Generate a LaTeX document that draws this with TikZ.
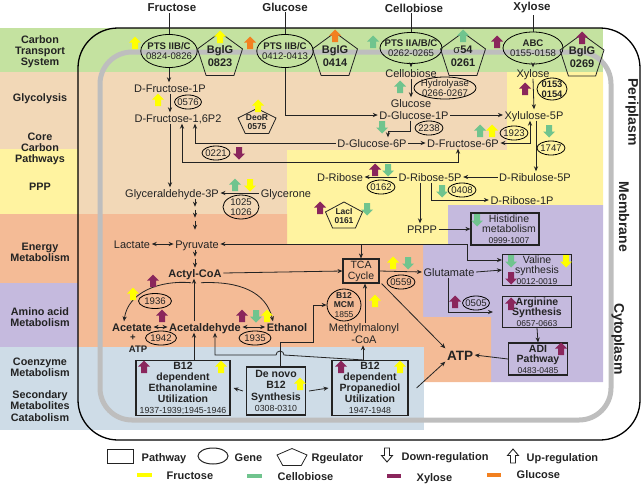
\documentclass[tikz,border=0pt]{standalone}
\usepackage{fontspec}
\setmainfont{Liberation Sans}
\usetikzlibrary{shapes.geometric,arrows.meta}
\definecolor{cgreen}{RGB}{196,226,160}
\definecolor{cpeach}{RGB}{242,216,183}
\definecolor{cyellow}{RGB}{255,243,160}
\definecolor{csalmon}{RGB}{244,187,150}
\definecolor{cpurple}{RGB}{197,186,222}
\definecolor{cblue}{RGB}{206,220,231}
\definecolor{aY}{RGB}{255,255,0}
\definecolor{aG}{RGB}{112,196,142}
\definecolor{aP}{RGB}{138,38,92}
\definecolor{aO}{RGB}{242,128,32}
\definecolor{ink}{RGB}{35,35,35}
\definecolor{mem}{RGB}{190,190,190}

\newcommand{\blkup}[3]{\fill[#3] (#1,#2) ++(0,-6.5) -- ++(6,6) -- ++(-3,0) -- ++(0,6.5) -- ++(-6,0) -- ++(0,-6.5) -- ++(-3,0) -- cycle;}
\newcommand{\blkdn}[3]{\fill[#3] (#1,#2) ++(0,6.5) -- ++(6,-6) -- ++(-3,0) -- ++(0,-6.5) -- ++(-6,0) -- ++(0,6.5) -- ++(-3,0) -- cycle;}
\newcommand{\outup}[2]{\filldraw[fill=white,draw=ink,line width=0.9pt] (#1,#2) ++(0,-7) -- ++(5.5,6.5) -- ++(-3,0) -- ++(0,7.5) -- ++(-5,0) -- ++(0,-7.5) -- ++(-3,0) -- cycle;}
\newcommand{\outdn}[2]{\filldraw[fill=white,draw=ink,line width=0.9pt] (#1,#2) ++(0,7) -- ++(5.5,-6.5) -- ++(-3,0) -- ++(0,-7.5) -- ++(-5,0) -- ++(0,7.5) -- ++(-3,0) -- cycle;}
\newcommand{\pentreg}[7]{%
  \draw[line width=0.8pt,draw=ink] (#2,#3) ++(0,-#5) -- ++(#4,{0.764*#5}) -- ++({-0.382*#4},{1.236*#5}) -- ++({-1.236*#4},0) -- ++({-0.382*#4},{-1.236*#5}) -- cycle;
  \node[#6] (#1) at (#2,{#3+0.1*#5}) {#7};}

\begin{document}
\begin{tikzpicture}[x=1pt,y=-1pt,
 lbl/.style={inner sep=1.5pt,text height=8pt,text depth=0pt,text=ink,font=\fontsize{11}{12}\selectfont},
 blbl/.style={lbl,font=\bfseries\fontsize{11}{12}\selectfont},
 toplbl/.style={text=ink,inner sep=1pt,font=\bfseries\fontsize{11.5}{12}\selectfont},
 side/.style={text=ink,align=center,font=\bfseries\fontsize{10.8}{11.2}\selectfont},
 rot/.style={text=ink,rotate=-90,font=\bfseries\fontsize{14}{14}\selectfont},
 gene/.style={ellipse,draw=black,line width=0.8pt,inner xsep=-3pt,inner ysep=-1pt,align=center,text=ink,font=\fontsize{9.6}{10}\selectfont},
 pbox/.style={draw=ink,line width=1.1pt,inner sep=0pt,align=center,text=ink},
 regb/.style={inner sep=0pt,align=center,text=ink,font=\bfseries\fontsize{11}{13}\selectfont},
 regs/.style={inner sep=0pt,align=center,text=ink,font=\bfseries\fontsize{8.5}{9.5}\selectfont},
 ln/.style={draw=ink,line width=0.8pt},
 arr/.style={ln,-{Stealth[length=5pt,width=4.2pt]}},
 darr/.style={ln,{Stealth[length=5pt,width=4.2pt]}-{Stealth[length=5pt,width=4.2pt]}}]

\useasboundingbox (0,0) rectangle (644,485);

% ---------- background bands ----------
\fill[cgreen] (0,28) rectangle (603,72);
\fill[cpeach] (0,72) rectangle (78,149);
\fill[cyellow] (0,149) rectangle (78,214);
\fill[csalmon] (0,214) rectangle (78,283);
\fill[cpurple] (0,283) rectangle (78,347);
\fill[cblue] (0,347) rectangle (78,430);
\fill[cpeach] (78,72) -- (507,72) -- (507,150) -- (287,150) -- (287,214) -- (78,214) -- cycle;
\fill[cyellow] (507,72) -- (603,72) -- (603,205) -- (448,205) -- (448,244) -- (287,244) -- (287,150) -- (507,150) -- cycle;
\fill[cpurple] (448,205) -- (603,205) -- (603,382) -- (491,382) -- (491,317) -- (423,317) -- (423,244) -- (448,244) -- cycle;
\fill[csalmon] (78,214) -- (287,214) -- (287,244) -- (423,244) -- (423,317) -- (491,317) -- (491,382) -- (424,382) -- (424,347) -- (78,347) -- cycle;
\fill[cblue] (78,347) rectangle (424,430);

% membrane and cell boundary
\draw[mem,line width=5pt,rounded corners=32pt] (100,52) rectangle (611,420);
\draw[black,line width=1.3pt,rounded corners=40pt] (78,28) rectangle (640,440);

% ---------- side labels ----------
\node[side] (sCTS) at (40,52) {Carbon\\Transport\\System};
\node[side] (sGly) at (40,99) {Glycolysis};
\node[side] (sCCP) at (40,149) {Core\\Carbon\\Pathways};
\node[side] (sPPP) at (40,187) {PPP};
\node[side] (sEM) at (40,252) {Energy\\Metabolism};
\node[side] (sAA) at (40,317) {Amino acid\\Metabolism};
\node[side] (sCM) at (40,367) {Coenzyme\\Metabolism};
\node[side] (sSM) at (40,406) {Secondary\\Metabolites\\Catabolism};
\node[rot] (tPeri) at (632,112) {Periplasm};
\node[rot] (tMem) at (624,217) {Membrane};
\node[rot] (tCyt) at (618,339) {Cytoplasm};

% ---------- top substrates and transporters ----------
\node[toplbl] (tFru) at (172,8) {Fructose};
\node[toplbl] (tGlc) at (285,7) {Glucose};
\node[toplbl] (tCel) at (414,8) {Cellobiose};
\node[toplbl] (tXyl) at (532,8) {Xylose};
\node[gene,minimum width=56,minimum height=33] (ptsF) at (169,51) {\textbf{PTS IIB/C}\\0824-0826};
\node[gene,minimum width=56,minimum height=33] (ptsG) at (285,51) {\textbf{PTS IIB/C}\\0412-0413};
\node[gene,minimum width=62,minimum height=31,inner xsep=-5pt] (ptsC) at (411,48) {\textbf{PTS IIA/B/C}\\0262-0265};
\node[gene,minimum width=60,minimum height=32] (abc) at (533,48) {\textbf{ABC}\\0155-0158};
\draw[ln] (ptsF.north) -- (ptsF.north |- tFru.south);
\draw[ln] (ptsG.north) -- (ptsG.north |- tGlc.south);
\draw[ln] (ptsC.north) -- (ptsC.north |- tCel.south);
\draw[ln] (abc.north) -- (abc.north |- tXyl.south);

\pentreg{bg823}{220}{54}{22.5}{21.5}{regb}{BglG\\0823}
\pentreg{bg414}{335}{54}{22.5}{21.5}{regb}{BglG\\0414}
\pentreg{s54}{463}{54}{22.5}{21.5}{regb}{{\mdseries σ}54\\0261}
\pentreg{bg269}{582}{55}{22}{21}{regb}{BglG\\0269}

% ---------- glycolysis ----------
\node[lbl] (f1p) at (170,88) {D-Fructose-1P};
\node[lbl] (f16) at (178,118) {D-Fructose-1,6P2};
\node[gene,minimum width=27,minimum height=14] (g576) at (188,102) {0576};
\pentreg{deor}{257}{121}{19}{12.5}{regs}{DeoR\\0575}
\node[lbl] (cel) at (411,73) {Cellobiose};
\node[lbl] (glc) at (411,103) {Glucose};
\node[lbl] (g1p) at (414,115) {D-Glucose-1P};
\node[gene,minimum width=62,minimum height=22,inner xsep=-4pt,inner ysep=-1.5pt] (hyd) at (445,88) {Hydrolyase\\0266-0267};
\node[lbl] (xyl) at (533,73) {Xylose};
\node[gene,minimum width=30,minimum height=22,inner ysep=-2pt,font=\bfseries\fontsize{9.4}{10}\selectfont] (g153) at (552,89) {0153\\0154};
\node[lbl] (x5p) at (534,115) {Xylulose-5P};
\node[lbl] (g6p) at (372,143) {D-Glucose-6P};
\node[lbl] (f6p) at (463,143) {D-Fructose-6P};
\node[gene,minimum width=28,minimum height=14] (g2238) at (429,128) {2238};
\node[gene,minimum width=28,minimum height=14] (g1923) at (514,133) {1923};
\node[gene,minimum width=28,minimum height=14] (g1747) at (551,148) {1747};
\node[gene,minimum width=28,minimum height=14] (g0221) at (216,153) {0221};
\node[lbl] (ga3p) at (172,193) {Glyceraldehyde-3P};
\node[lbl] (gly) at (286,193) {Glycerone};
\node[gene,minimum width=36,minimum height=24,inner ysep=-2pt] (g1025) at (241,207) {1025\\1026};

% ---------- PPP ----------
\node[lbl] (rib) at (340,177) {D-Ribose};
\node[lbl] (r5p) at (430,177) {D-Ribose-5P};
\node[lbl] (ru5p) at (535,177) {D-Ribulose-5P};
\node[lbl] (r1p) at (522,200) {D-Ribose-1P};
\node[lbl] (prpp) at (422,229) {PRPP};
\node[gene,minimum width=28,minimum height=14] (g0162) at (381,187) {0162};
\node[gene,minimum width=28,minimum height=14] (g0408) at (462,190) {0408};
\pentreg{laci}{344}{215}{18.5}{13}{regs}{LacI\\0161}

% ---------- energy ----------
\node[lbl] (lac) at (132,244) {Lactate};
\node[lbl] (pyr) at (197,244) {Pyruvate};
\node[blbl] (acoa) at (195,273) {Actyl-CoA};
\node[blbl] (ace) at (132,327) {Acetate};
\node[text=ink,inner sep=1pt,font=\bfseries\fontsize{9.5}{10}\selectfont] (plus) at (133,338) {+};
\node[text=ink,inner sep=1pt,font=\bfseries\fontsize{9.5}{10}\selectfont] (atp1) at (138,349) {ATP};
\node[blbl] (ald) at (205,327) {Acetaldehyde};
\node[blbl] (eth) at (287,327) {Ethanol};
\node[gene,minimum width=33,minimum height=15] (g1936) at (155,301) {1936};
\node[gene,minimum width=31,minimum height=14] (g1942) at (161,338) {1942};
\node[gene,minimum width=32,minimum height=14] (g1935) at (255,338) {1935};
\node[pbox,minimum width=36,minimum height=24,font=\fontsize{10.5}{11}\selectfont] (tca) at (361,271) {TCA\\Cycle};
\node[gene,minimum width=28,minimum height=14] (g0559) at (401,282) {0559};
\node[gene,minimum width=34,minimum height=32,inner ysep=-2.5pt,font=\fontsize{8.5}{9.5}\selectfont] (mcm) at (344,305) {\textbf{B12}\\\textbf{MCM}\\1855};
\node[text=ink,align=center,inner sep=1pt,font=\fontsize{11}{12}\selectfont] (mmc) at (364,334) {Methylmalonyl\\-CoA};
\node[text=ink,inner sep=1.5pt,text height=10pt,text depth=0pt,font=\bfseries\fontsize{13.5}{14}\selectfont] (atp) at (460,355) {ATP};

% ---------- amino acids ----------
\node[pbox,minimum width=68,minimum height=32] (his) at (505,229) {};
\node[text=ink,align=center,inner sep=0pt,font=\fontsize{10.5}{10.5}\selectfont] (hist) at (509,229) {Histidine\\metabolism\\{\fontsize{8.5}{8.5}\selectfont 0999-1007}};
\node[lbl] (glu) at (449,272) {Glutamate};
\node[pbox,minimum width=69,minimum height=31,font=\fontsize{10.5}{10.5}\selectfont] (val) at (537,270) {Valine\\synthesis\\{\fontsize{8.5}{8.5}\selectfont 0012-0019}};
\node[gene,minimum width=27,minimum height=14] (g0505) at (476,303) {0505};
\node[pbox,minimum width=69,minimum height=31,font=\bfseries\fontsize{10.5}{10.5}\selectfont] (arg) at (537,312) {Arginine\\Synthesis\\{\mdseries\fontsize{8.5}{8.5}\selectfont 0657-0663}};
\node[pbox,minimum width=59,minimum height=32,font=\bfseries\fontsize{10.5}{10.5}\selectfont] (adi) at (538,359) {ADI\\Pathway\\{\mdseries\fontsize{8.5}{8.5}\selectfont 0483-0485}};

% ---------- coenzyme ----------
\node[pbox,minimum width=94,minimum height=55,font=\bfseries\fontsize{10.5}{11}\selectfont] (eau) at (183,388) {B12\\dependent\\Ethanolamine\\Utilization\\{\mdseries\fontsize{8.8}{9}\selectfont 1937-1939;1945-1946}};
\node[pbox,minimum width=59,minimum height=48,font=\bfseries\fontsize{10.5}{11.5}\selectfont] (dnv) at (276,391) {De novo\\B12\\Synthesis\\{\mdseries\fontsize{8.8}{9}\selectfont 0308-0310}};
\node[pbox,minimum width=76,minimum height=55,font=\bfseries\fontsize{10.5}{11}\selectfont] (pdu) at (370,388) {B12\\dependent\\Propanediol\\Utilization\\{\mdseries\fontsize{8.8}{9}\selectfont 1947-1948}};

% ---------- helper coordinates ----------
\coordinate (xA) at (410,131);
\coordinate (xB) at (388,0);
\coordinate (cF1) at (195,0);
\coordinate (cF2) at (182,162);
\coordinate (cF3) at (458,0);
\coordinate (cF4) at (170,0);
\coordinate (cX1) at (530,0);
\coordinate (cX2) at (536,0);
\coordinate (cR1) at (431,0);
\coordinate (cR2) at (420,0);
\coordinate (cC) at (195,0);
\coordinate (cP1) at (467,244);
\coordinate (cP2) at (361,244);
\coordinate (cG) at (448,0);
\coordinate (cA) at (194,0);
\coordinate (cB1) at (363,355);
\coordinate (cB2) at (215,355);
\coordinate (cB3) at (284,355);
\coordinate (cM) at (365,0);
\coordinate (cD1) at (280,342);
\coordinate (cD2) at (313,342);

% ---------- connectors ----------
\draw[arr] (ptsF.south) -- (ptsF.south |- f1p.north);
\draw[arr] (f1p.south) -- (f1p.south |- f16.north);
\draw[arr] (ptsG.south) |- (g1p.west);
\draw[arr] (ptsC.south) -- (cel.north);
\draw[arr] (cel.south) -- (glc.north);
\draw[arr] (abc.south) -- (xyl.north);
\draw[arr] (xyl.south) -- (x5p.north);
\draw[arr] (g1p.east) -- (x5p.west);
\draw[arr] (g1p.south -| xA) -- (xA) -| (g6p.north -| xB);
\draw[arr] (g6p.east) -- (f6p.west);
\draw[arr] (g6p.west) -| (f16.south -| cF1);
\draw[darr] (f16.south -| cF2) -- (cF2) -| (f6p.south -| cF3);
\draw[arr] (f16.south -| cF4) -- (ga3p.north -| cF4);
\draw[darr] (x5p.south -| cX1) |- (f6p.east);
\draw[arr] (x5p.south -| cX2) -- (ru5p.north -| cX2);
\draw[arr] (ru5p.west) -- (r5p.east);
\draw[arr] (r5p.west) -- (rib.east);
\draw[arr] (r5p.south -| cR1) |- (r1p.west);
\draw[arr] (r5p.south -| cR2) -- (prpp.north -| cR2);
\draw[arr] (prpp.east) -- (his.west);
\draw[arr] (gly.west) -- (ga3p.east);
\draw[arr] (ga3p.south -| cC) -- ++(0,8);
\draw[arr] (ga3p.south -| cC) ++(0,11) -- ++(0,8);
\draw[arr] (ga3p.south -| cC) ++(0,22) -- ++(0,9);
\draw[darr] (lac.east) -- (pyr.west);
\draw[arr] (pyr.south -| cC) -- ++(0,7);
\draw[arr] (pyr.south -| cC) ++(0,9) -- ++(0,9);
\draw[darr] (pyr.east) -- (cP1) |- ([yshift=10pt]val.west);
\draw[arr] (cP2) -- (tca.north);
\draw[arr] (acoa.east) -- (tca.west);
\draw[arr] (tca.east) -- (glu.west);
\draw[arr] (glu.east) -- (val.west);
\draw[arr] (glu.south -| cG) |- ([xshift=-9pt]arg.west);
\draw[arr] (arg.south) -- (adi.north);
\draw[arr] (adi.west) -- (atp.east);
\draw[arr] ([xshift=2pt]tca.south east) -- (atp.north west);
\draw[arr] ([xshift=8pt]pdu.east) -- (atp.south west);
\draw[darr] (ace.east) -- (ald.west);
\draw[darr] (ald.east) -- (eth.west);
\draw[arr] (ald.north -| cA) -- (acoa.south -| cA);
\draw[arr] (eau.north -| cA) -- (ald.south -| cA);
\draw[arr] ([xshift=-4pt,yshift=-4pt]acoa.south) .. controls (160,280) and (128,292) .. ([xshift=-8pt]ace.north);
\draw[arr] ([xshift=6pt,yshift=-4pt]acoa.south) .. controls (240,281) and (266,292) .. ([xshift=-14pt]eth.north);
\draw[arr] (pdu.north -| cB1) -- (cB3) arc[start angle=0,end angle=180,radius=4pt] -- (cB2) -- (ald.south -| cB2);
\draw[arr] (pdu.north -| cB1) -- (mmc.south -| cB1);
\draw[arr] (mmc.north -| cM) -- (tca.south -| cM);
\draw[arr] (dnv.north -| cD1) -- (cD1) -- (cD2) |- (mcm.west);
\draw[arr] ([xshift=-3pt]dnv.west) -- ([xshift=3pt]eau.east);
\draw[arr] ([xshift=3pt]dnv.east) -- ([xshift=-3pt]pdu.west);

% ---------- regulation arrows ----------
\blkup{135}{43}{aY} \blkup{220}{37}{aY}
\blkup{250}{43}{aO} \blkup{335}{36}{aO}
\blkup{373}{42}{aG} \blkup{463}{36}{aG}
\blkup{497}{42}{aP} \blkup{582}{38}{aP}
\blkup{158}{100}{aY}
\blkup{258}{106}{aY}
\blkup{400}{87}{aG}
\blkup{525}{89}{aP}
\blkdn{382}{127}{aG}
\blkdn{239}{153}{aP}
\blkup{480}{131}{aG} \blkup{492}{131}{aY}
\blkdn{549}{131}{aG}
\blkup{375}{170}{aP} \blkdn{388}{170}{aG}
\blkdn{442}{191}{aG}
\blkup{320}{208}{aP} \blkdn{367}{209}{aG}
\blkup{235}{185}{aG} \blkdn{250}{185}{aY}
\blkdn{477}{220}{aG}
\blkup{133}{294}{aY} \blkup{153}{281}{aP}
\blkup{162}{316}{aP}
\blkup{242}{316}{aP} \blkdn{256}{316}{aG} \blkup{267}{316}{aY}
\blkup{393}{263}{aY} \blkdn{408}{263}{aG}
\blkup{375}{301}{aY}
\blkdn{511}{261}{aG} \blkdn{566}{261}{aY} \blkdn{511}{278}{aP}
\blkup{455}{302}{aP}
\blkup{511}{304}{aP}
\blkup{561}{349}{aP}
\blkup{144}{367}{aP} \blkup{221}{367}{aY}
\blkup{300}{384}{aY}
\blkup{341}{367}{aP} \blkup{400}{367}{aY}

% ---------- legend ----------
\node[draw=ink,line width=1pt,minimum width=26,minimum height=14,inner sep=0pt] (lgR) at (120,456) {};
\node[blbl,anchor=west] (lgRt) at (140,457) {Pathway};
\node[ellipse,draw=ink,line width=1pt,minimum width=30,minimum height=16,inner sep=0pt] (lgE) at (213,456) {};
\node[blbl,anchor=west] (lgEt) at (233,457) {Gene};
\pentreg{lgP}{292}{457}{15}{8.5}{inner sep=0pt}{}
\node[blbl,anchor=west] (lgPt) at (310,457) {Rgeulator};
\outdn{387}{455}
\node[blbl,anchor=west] (lgDt) at (400,456) {Down-regulation};
\outup{513}{456}
\node[blbl,anchor=west] (lgUt) at (525,457) {Up-regulation};
\fill[aY] (137,473) rectangle (152,477);
\node[blbl,anchor=west] (lgF) at (165,475) {Fructose};
\fill[aG] (247,474) rectangle (262,478);
\node[blbl,anchor=west] (lgC) at (276,476) {Cellobiose};
\fill[aP] (387,474) rectangle (401,478);
\node[blbl,anchor=west] (lgX) at (415,477) {Xylose};
\fill[aO] (487,473) rectangle (501,477);
\node[blbl,anchor=west] (lgG) at (515,474) {Glucose};
\end{tikzpicture}
\end{document}
